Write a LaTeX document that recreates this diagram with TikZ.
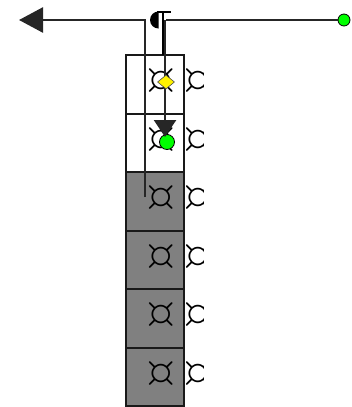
\documentclass[tikz,border=0pt]{standalone}
\usepackage{fontspec}
\usetikzlibrary{shapes.geometric,arrows.meta,calc}
\newcommand{\cursym}{{\fontsize{52}{52}\selectfont ¤}}
\begin{document}
\begin{tikzpicture}[x=1pt,y=-1pt,
  cell/.style={minimum width=58pt,minimum height=58.5pt,inner sep=0pt,outer sep=0pt},
  wcell/.style={cell,fill=white},
  gcell/.style={cell,fill=gray},
  border/.style={draw=black!90,line width=2pt},
  sym/.style={inner sep=0pt},
  gdot/.style={circle,fill=green,draw=black,line width=0.8pt,minimum size=12pt,inner sep=0pt},
  wire/.style={line width=2.6pt,draw=black!85}]
\useasboundingbox (0,0) rectangle (351,407);
\node[wcell] (c1) at (155,84.25) {};
\node[wcell] (c2) at (155,142.75) {};
\node[gcell] (c3) at (155,201.25) {};
\node[gcell] (c4) at (155,259.75) {};
\node[gcell] (c5) at (155,318.25) {};
\node[gcell] (c6) at (155,376.75) {};
\foreach \i in {1,...,6}{
  \draw[border] (c\i.north west) rectangle (c\i.south east);
  \node[sym] (s\i) at ($(c\i)+(6,-3)$) {\cursym};
  \begin{scope}
    \clip ($(c\i.east)+(2,-18)$) rectangle ($(c\i.east)+(19,12)$);
    \node[sym] (r\i) at ($(c\i.east)+(14,-3)$) {\cursym};
  \end{scope}
}
% left arrow path
\coordinate (lend) at (145,197);
\coordinate (lcorner) at (145,20);
\coordinate (ltip) at (19,20);
\draw[wire,-{Triangle[length=24pt,width=25pt]}] (lend) -- (lcorner) -- (ltip);
% half disc and T
\begin{scope}
  \clip (149,10) rectangle (158.5,30);
  \fill[black] (158.5,20) circle (8.5);
\end{scope}
\coordinate (ttop) at (163,12);
\coordinate (tbot) at (163,55);
\draw[line width=1.4pt,black] (157,12) -- (171,12);
\draw[line width=1.4pt,black] (ttop) -- (tbot);
% right wire
\node[gdot] (g1) at (344,20) {};
\coordinate (rstart) at (166,20);
\draw[wire] (rstart) -- (g1);
% down wire with diamond and arrow
\node[gdot,minimum size=15pt] (g2) at (167,142) {};
\coordinate (dtop) at (165,20);
\draw[wire,-{Triangle[length=17pt,width=22pt]}] (dtop) -- (165,137);
\node[diamond,fill=yellow,draw=black!70,line width=0.6pt,minimum width=17pt,minimum height=14pt,inner sep=0pt] (d) at (166,82) {};
\end{tikzpicture}
\end{document}
